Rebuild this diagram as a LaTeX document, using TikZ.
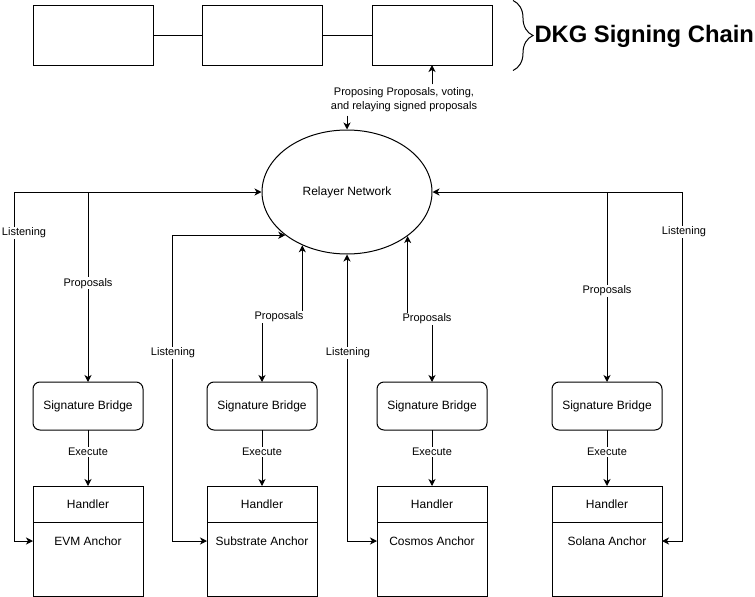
\documentclass[tikz,border=0pt]{standalone}
\usepackage{fontspec}
\setmainfont{Liberation Sans}
\usetikzlibrary{positioning,shapes.geometric,arrows.meta,decorations.pathreplacing}

\begin{document}
\begin{tikzpicture}[x=1pt,y=-1pt,line width=1pt,
  >={Stealth[length=7pt,width=7pt,inset=2pt]},
  chainbox/.style={draw,minimum width=120pt,minimum height=60pt,outer sep=0pt},
  bridgebox/.style={draw,rounded corners=7pt,minimum width=110pt,minimum height=48pt,outer sep=0pt,font=\fontsize{12}{14}\selectfont},
  handlerbox/.style={draw,minimum width=110pt,minimum height=36pt,outer sep=0pt,font=\fontsize{12}{14}\selectfont},
  anchorbox/.style={draw,minimum width=110pt,inner sep=0pt,outer sep=0pt,text height=23.5pt,text depth=50.5pt,font=\fontsize{12}{14}\selectfont},
  lbl/.style={fill=white,inner sep=1pt,font=\fontsize{11}{13}\selectfont}]
  \useasboundingbox (0,0) rectangle (755,597);

  % Signing chain
  \node[chainbox] (blk1) at (93.5,35) {};
  \node[chainbox] (blk2) at (262,35) {};
  \node[chainbox] (blk3) at (432,35) {};
  \draw (blk1) -- (blk2);
  \draw (blk2) -- (blk3);
  \draw[decorate,decoration={brace,amplitude=20pt}] (513,0.5) -- (513,70.5);
  \node[anchor=base west,inner sep=0pt,font=\bfseries\fontsize{23.8}{28}\selectfont] (title) at (534,42.5) {DKG Signing Chain};

  % Relayer network
  \node[draw,ellipse,minimum width=170pt,minimum height=124pt,font=\fontsize{12}{14}\selectfont] (relay) at (347,192) {Relayer Network};
  \node[align=center,inner sep=3pt,font=\fontsize{11}{14}\selectfont] (vote) at (404,100) {Proposing Proposals, voting,\\and relaying signed proposals};
  \draw[->] (vote.north -| blk3.south) -- (blk3.south);
  \draw[->] (vote.south -| relay.north) -- (relay.north);

  % Bridges with their anchors
  \node[bridgebox] (sb1) at (88,406) {Signature Bridge};
  \node[handlerbox,below=56pt of sb1] (hd1) {Handler};
  \node[anchorbox,below=0pt of hd1] (evm) {EVM Anchor};

  \node[bridgebox] (sb2) at (262,406) {Signature Bridge};
  \node[handlerbox,below=56pt of sb2] (hd2) {Handler};
  \node[anchorbox,below=0pt of hd2] (sub) {Substrate Anchor};

  \node[bridgebox] (sb3) at (432,406) {Signature Bridge};
  \node[handlerbox,below=56pt of sb3] (hd3) {Handler};
  \node[anchorbox,below=0pt of hd3] (cos) {Cosmos Anchor};

  \node[bridgebox] (sb4) at (607,406) {Signature Bridge};
  \node[handlerbox,below=56pt of sb4] (hd4) {Handler};
  \node[anchorbox,below=0pt of hd4] (sol) {Solana Anchor};

  % Execute
  \draw[->] (sb1) -- (hd1) node[lbl,pos=0.39] {Execute};
  \draw[->] (sb2) -- (hd2) node[lbl,pos=0.39] {Execute};
  \draw[->] (sb3) -- (hd3) node[lbl,pos=0.39] {Execute};
  \draw[->] (sb4) -- (hd4) node[lbl,pos=0.39] {Execute};

  % Proposals
  \draw[->] (sb1.north |- relay.west) -- (sb1.north) node[lbl,pos=0.48] {Proposals};
  \draw[<->] (sb2.north) -- ++(0,-65) node[lbl,xshift=17pt] {Proposals} -| (relay.230);
  \draw[<->] (sb3.north) -- ++(0,-63) node[lbl,xshift=-5pt] {Proposals} -| (relay.324);
  \draw[->] (sb4.north |- relay.east) -- (sb4.north) node[lbl,pos=0.52] {Proposals};

  % Listening
  \coordinate (lis1) at (14,541);
  \coordinate (lis2) at (172,541);
  \coordinate (lis4) at (682,541);
  \draw[<->] (relay.west) -| (lis1) -- (lis1 -| evm.west);
  \draw[<->] (relay.215) -| (lis2) -- (lis2 -| sub.west);
  \draw[<->] (relay.south) |- (lis1 -| cos.west);
  \draw[<->] (relay.east) -| (lis4) -- (lis4 -| sol.east);
  \node[lbl] (lbl1) at (24,233) {Listening};
  \node[lbl] (lbl2) at (173,353) {Listening};
  \node[lbl] (lbl3) at (348,353) {Listening};
  \node[lbl] (lbl4) at (684,232) {Listening};
\end{tikzpicture}
\end{document}
